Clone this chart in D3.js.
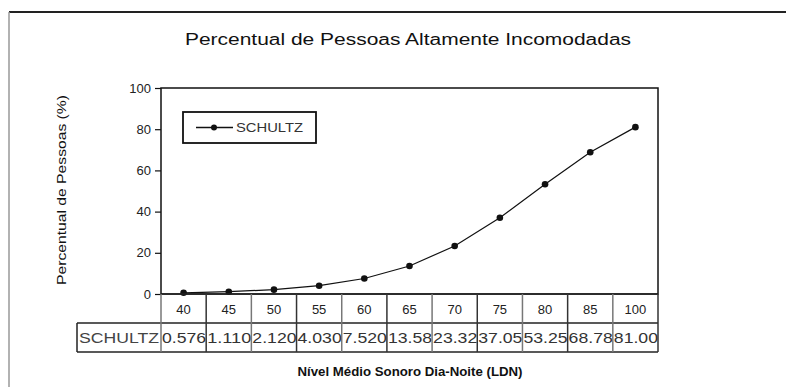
<!DOCTYPE html>
<html>
<head>
<meta charset="utf-8">
<script src="https://cdn.jsdelivr.net/npm/d3@7"></script>
<style>
  html, body { margin: 0; padding: 0; background: #fff; }
  svg { display: block; font-family: "Liberation Sans", Arial, sans-serif; }
</style>
</head>
<body>
<svg id="chart" width="786" height="387"></svg>
<script>
// Nível sonoro dia-noite (LDN) e percentual de pessoas altamente incomodadas (Schultz)
const levels = ["40", "45", "50", "55", "60", "65", "70", "75", "80", "85", "100"];
const schultz = [0.576, 1.110, 2.120, 4.030, 7.520, 13.58, 23.32, 37.05, 53.25, 68.78, 81.00];
const schultzLabels = ["0.576", "1.110", "2.120", "4.030", "7.520", "13.58", "23.32", "37.05", "53.25", "68.78", "81.00"];
const yTicks = [0, 20, 40, 60, 80, 100];
const seriesName = "SCHULTZ";

const svg = d3.select("#chart");
const plot = { left: 161, right: 658, top: 88, bottom: 294 };
const rowH = 29;
const labelColLeft = 77;
const ink = "#111";

const x = d3.scaleBand().domain(levels).range([plot.left, plot.right]);
const y = d3.scaleLinear().domain([0, 100]).range([plot.bottom, plot.top]);

// outer frame (top and left edges)
svg.append("line").attr("x1", 9).attr("x2", 786).attr("y1", 12).attr("y2", 12)
  .attr("stroke", "#222").attr("stroke-width", 2);
svg.append("line").attr("x1", 9).attr("x2", 9).attr("y1", 12).attr("y2", 387)
  .attr("stroke", "#999").attr("stroke-width", 1.5);

// title
svg.append("text").attr("x", 408).attr("y", 45).attr("text-anchor", "middle")
  .attr("font-size", 16).attr("fill", ink)
  .attr("textLength", 446).attr("lengthAdjust", "spacingAndGlyphs")
  .text("Percentual de Pessoas Altamente Incomodadas");

// plot frame
svg.append("rect").attr("x", plot.left).attr("y", plot.top)
  .attr("width", plot.right - plot.left).attr("height", plot.bottom - plot.top)
  .attr("fill", "none").attr("stroke", ink).attr("stroke-width", 1.5);

// y axis
const yAxis = d3.axisLeft(y).tickValues(yTicks).tickSize(6).tickPadding(4);
const gy = svg.append("g").attr("transform", `translate(${plot.left},0)`).call(yAxis);
gy.select(".domain").remove();
gy.selectAll(".tick line").attr("stroke", ink).attr("stroke-width", 1.2);
gy.selectAll(".tick text").attr("font-size", 13).attr("fill", "#222")
  .attr("font-family", "Liberation Sans, Arial, sans-serif");

// y axis title
svg.append("text")
  .attr("transform", `translate(66,${(plot.top + plot.bottom) / 2 - 1}) rotate(-90)`)
  .attr("text-anchor", "middle").attr("font-size", 12).attr("fill", ink)
  .attr("textLength", 190).attr("lengthAdjust", "spacingAndGlyphs")
  .text("Percentual de Pessoas (%)");

// series line and markers
const line = d3.line()
  .x((d, i) => x(levels[i]) + x.bandwidth() / 2)
  .y(d => y(d));
svg.append("path").datum(schultz).attr("d", line)
  .attr("fill", "none").attr("stroke", ink).attr("stroke-width", 1.2);
svg.selectAll("circle.pt").data(schultz).join("circle").attr("class", "pt")
  .attr("cx", (d, i) => x(levels[i]) + x.bandwidth() / 2)
  .attr("cy", d => y(d)).attr("r", 3.3).attr("fill", ink);

// legend
const lg = svg.append("g");
lg.append("rect").attr("x", 183).attr("y", 112).attr("width", 133).attr("height", 31)
  .attr("fill", "#fff").attr("stroke", ink).attr("stroke-width", 1.8);
lg.append("line").attr("x1", 196).attr("x2", 233).attr("y1", 127.5).attr("y2", 127.5)
  .attr("stroke", ink).attr("stroke-width", 1.3);
lg.append("circle").attr("cx", 214).attr("cy", 127.5).attr("r", 3).attr("fill", ink);
lg.append("text").attr("x", 236).attr("y", 132).attr("font-size", 13).attr("fill", "#333")
  .attr("textLength", 67).attr("lengthAdjust", "spacingAndGlyphs")
  .text(seriesName);

// data table: category row and value row
const table = svg.append("g");
const catTop = plot.bottom, valTop = plot.bottom + rowH, tableBottom = plot.bottom + 2 * rowH;
table.selectAll("text.cat").data(levels).join("text").attr("class", "cat")
  .attr("x", d => x(d) + x.bandwidth() / 2).attr("y", catTop + 20)
  .attr("text-anchor", "middle").attr("font-size", 13).attr("fill", "#222")
  .text(d => d);
table.selectAll("text.val").data(schultzLabels).join("text").attr("class", "val")
  .attr("x", (d, i) => x(levels[i]) + 1).attr("y", valTop + 20)
  .attr("font-size", 15).attr("fill", "#333")
  .attr("textLength", x.bandwidth() - 1).attr("lengthAdjust", "spacingAndGlyphs")
  .text(d => d);
table.append("text").attr("x", labelColLeft + 2).attr("y", valTop + 20)
  .attr("font-size", 14).attr("fill", "#444")
  .attr("textLength", plot.left - labelColLeft - 4).attr("lengthAdjust", "spacingAndGlyphs")
  .text(seriesName);

// table grid
const gridStroke = "#222";
table.append("line").attr("x1", plot.left).attr("x2", plot.right).attr("y1", catTop).attr("y2", catTop)
  .attr("stroke", gridStroke).attr("stroke-width", 1.5);
table.append("line").attr("x1", labelColLeft).attr("x2", plot.right).attr("y1", valTop).attr("y2", valTop)
  .attr("stroke", gridStroke).attr("stroke-width", 1.5);
table.append("line").attr("x1", labelColLeft).attr("x2", plot.right).attr("y1", tableBottom).attr("y2", tableBottom)
  .attr("stroke", gridStroke).attr("stroke-width", 1.5);
table.append("line").attr("x1", labelColLeft).attr("x2", labelColLeft).attr("y1", valTop).attr("y2", tableBottom)
  .attr("stroke", gridStroke).attr("stroke-width", 1.5);
const edges = levels.map(d => x(d)).concat([plot.right]);
table.selectAll("line.col").data(edges).join("line").attr("class", "col")
  .attr("x1", d => d).attr("x2", d => d).attr("y1", catTop).attr("y2", tableBottom)
  .attr("stroke", (d, i) => i % 2 ? "#333" : "#777").attr("stroke-width", 1.5);

// x axis title
svg.append("text").attr("x", 410).attr("y", 376).attr("text-anchor", "middle")
  .attr("font-size", 13).attr("font-weight", "bold").attr("fill", ink)
  .attr("textLength", 225).attr("lengthAdjust", "spacingAndGlyphs")
  .text("Nível Médio Sonoro Dia-Noite (LDN)");
</script>
</body>
</html>
